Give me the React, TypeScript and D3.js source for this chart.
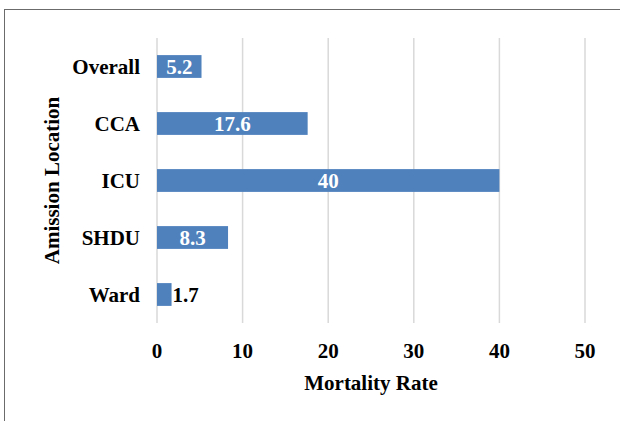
import React from 'react';
import * as d3 from 'd3';

const categories = ['Overall', 'CCA', 'ICU', 'SHDU', 'Ward'];
const values = [5.2, 17.6, 40, 8.3, 1.7];
const xTicks = [0, 10, 20, 30, 40, 50];

const width = 620;
const height = 421;
const margin = { top: 38, right: 35, bottom: 98, left: 157 };

const font = "'Liberation Serif', 'Times New Roman', Times, serif";
const fs = 21;

const App: React.FC = () => {
    const x = d3.scaleLinear()
        .domain([0, 50])
        .range([margin.left, 585]);

    const y = d3.scaleBand<string>()
        .domain(categories)
        .range([margin.top, height - margin.bottom])
        .paddingInner(0.6)
        .paddingOuter(0.3);

    return (
        <div style={{ position: 'absolute', left: 0, top: 0 }}>
            <svg width={width} height={height} style={{ display: 'block' }} fontFamily={font}>
                <rect x={0} y={0} width={width} height={height} fill="#fff" />
                {/* outer frame */}
                <rect x={4.5} y={9.5} width={width + 10} height={height + 10} fill="none" stroke="#6b6b6b" strokeWidth={1} />

                {/* gridlines */}
                {xTicks.map(t => (
                    <line key={t} x1={x(t)} x2={x(t)} y1={margin.top} y2={height - margin.bottom}
                        stroke="#d9d9d9" strokeWidth={1.5} />
                ))}

                {/* bars */}
                {categories.map((c, i) => {
                    const v = values[i];
                    const bw = x(v) - x(0);
                    const inside = bw > 30;
                    const cy = (y(c) || 0) + y.bandwidth() / 2;
                    return (
                        <g key={c}>
                            <rect x={x(0)} y={y(c)} width={bw} height={y.bandwidth()} fill="#4f81bd" />
                            <text
                                x={inside ? x(0) + bw / 2 : x(v) + 1}
                                y={cy}
                                dy="0.35em"
                                textAnchor={inside ? 'middle' : 'start'}
                                fill={inside ? '#fff' : '#000'}
                                fontWeight="bold"
                                fontSize={fs}
                                fontFamily={font}
                            >{v}</text>
                            <text x={140} y={cy} dy="0.35em" textAnchor="end" fontWeight="bold" fontSize={fs} fontFamily={font}>{c}</text>
                        </g>
                    );
                })}

                {/* x tick labels */}
                {xTicks.map(t => (
                    <text key={t} x={x(t)} y={351} dy="0.35em" textAnchor="middle" fontWeight="bold" fontSize={fs} fontFamily={font}>{t}</text>
                ))}

                {/* axis titles */}
                <text x={(x(0) + x(50)) / 2} y={383} dy="0.35em" textAnchor="middle" fontWeight="bold" fontSize={fs} fontFamily={font}>Mortality Rate</text>
                <text transform={`translate(52, ${(margin.top + height - margin.bottom) / 2}) rotate(-90)`}
                    dy="0.35em" textAnchor="middle" fontWeight="bold" fontSize={fs} fontFamily={font}>Amission Location</text>
            </svg>
        </div>
    );
};

export default App;
